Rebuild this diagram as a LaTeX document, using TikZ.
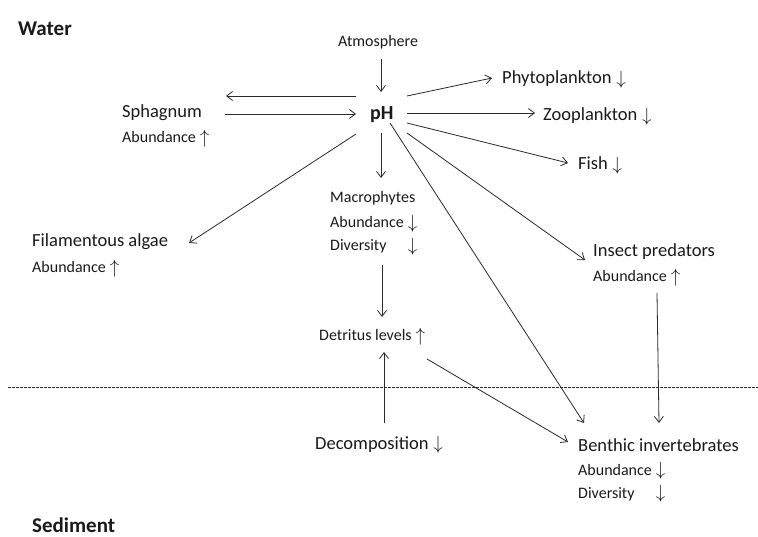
\documentclass[tikz,border=0pt]{standalone}
\usepackage{fontspec}
\setmainfont{Carlito}
\usepackage{calc}
\usetikzlibrary{arrows.meta,calc}
\newcommand{\uparr}{\kern0.25em\raisebox{-0.05em}{\scalebox{1.1}{$\uparrow$}}}
\newcommand{\dnarr}{\kern0.25em\raisebox{-0.05em}{\scalebox{1.1}{$\downarrow$}}}
\newcommand{\divlabel}{\makebox[\widthof{Abundance}][l]{Diversity}}
\definecolor{txtcol}{HTML}{1A1A1A}
\definecolor{lncol}{HTML}{2A2A2A}
\tikzset{
  lbl/.style={anchor=base west, inner sep=0pt, text=txtcol},
  txtbig/.style={lbl, font=\fontsize{18.5}{22}\selectfont},
  txtsmall/.style={lbl, font=\fontsize{16}{19}\selectfont},
  txthead/.style={lbl, font=\fontsize{21}{25}\selectfont\bfseries},
  arr/.style={draw=lncol, line width=0.8pt, -{Straight Barb[length=6pt,width=9pt,line width=0.8pt]}},
  sep/.style={draw=lncol, line width=0.7pt, dash pattern=on 2.5pt off 1.5pt}
}
\begin{document}
\begin{tikzpicture}[x=1pt,y=-1pt]
\useasboundingbox (0,0) rectangle (758,537);
\fill[white] (0,0) rectangle (758,537);

% headings
\node[txthead] (water) at (18,36) {Water};
\node[txthead] (sed) at (32,532) {Sediment};

% nodes
\node[txtsmall] (atm) at (338,47) {Atmosphere};
\node[lbl, font=\fontsize{20}{24}\selectfont\bfseries] (ph) at (370,120) {pH};
\node[txtbig] (spha) at (122,118) {Sphagnum};
\node[txtsmall] (spha2) at (122,143) {Abundance\uparr};
\node[txtbig] (algae) at (32,247) {Filamentous algae};
\node[txtsmall] (algae2) at (32,273) {Abundance\uparr};
\node[txtbig] (phyto) at (502,84) {Phytoplankton\dnarr};
\node[txtbig] (zoo) at (543,121) {Zooplankton\dnarr};
\node[txtbig] (fish) at (578,170) {Fish\dnarr};
\node[txtsmall] (macro) at (330,203) {Macrophytes};
\node[txtsmall] (macro2) at (330,228) {Abundance\dnarr};
\node[txtsmall] (macro3) at (330,251) {\divlabel\dnarr};
\node[txtsmall] (detr) at (319,341) {Detritus levels\uparr};
\node[txtbig] (insect) at (593,257) {Insect predators};
\node[txtsmall] (insect2) at (593,282) {Abundance\uparr};
\node[txtbig] (decomp) at (315,449) {Decomposition\dnarr};
\node[txtbig] (benth) at (578,451) {Benthic invertebrates};
\node[txtsmall] (benth2) at (578,475) {Abundance\dnarr};
\node[txtsmall] (benth3) at (578,498) {\divlabel\dnarr};

% separator
\draw[sep] (8,387) -- (758,387);

% connectors
\draw[arr] ($(atm.base west)+(43,12)$) -- ($(ph.base west)+(11,-28)$);
\draw[arr] ($(ph.base west)+(-14,-24)$) -- ($(spha.base west)+(104,-22)$);
\draw[arr] ($(spha.base west)+(103,-4)$) -- ($(ph.base west)+(-14,-6)$);
\draw[arr] ($(ph.base west)+(-14,14)$) -- ($(algae.base west)+(157,-4)$);
\draw[arr] ($(ph.base west)+(37,-24)$) -- ($(phyto.base west)+(-10,-6)$);
\draw[arr] ($(ph.base west)+(37,-7)$) -- ($(zoo.base west)+(-8,-8)$);
\draw[arr] ($(ph.base west)+(37,3)$) -- ($(fish.base west)+(-10,-7)$);
\draw[arr] ($(ph.base west)+(37,13)$) -- ($(insect.base west)+(-8,3)$);
\draw[arr] ($(ph.base west)+(20,3)$) -- ($(benth.base west)+(6,-28)$);
\draw[arr] ($(insect2.base west)+(64,11)$) -- ($(benth.base west)+(81,-28)$);
\draw[arr] ($(ph.base west)+(11,13)$) -- ($(macro.base west)+(51,-25)$);
\draw[arr] ($(macro3.base west)+(52,14)$) -- ($(detr.base west)+(63,-24)$);
\draw[arr] ($(decomp.base west)+(69,-26)$) -- ($(detr.base west)+(65,11)$);
\draw[arr] ($(detr.base west)+(108,18)$) -- ($(benth.base west)+(-10,-9)$);
\end{tikzpicture}
\end{document}
